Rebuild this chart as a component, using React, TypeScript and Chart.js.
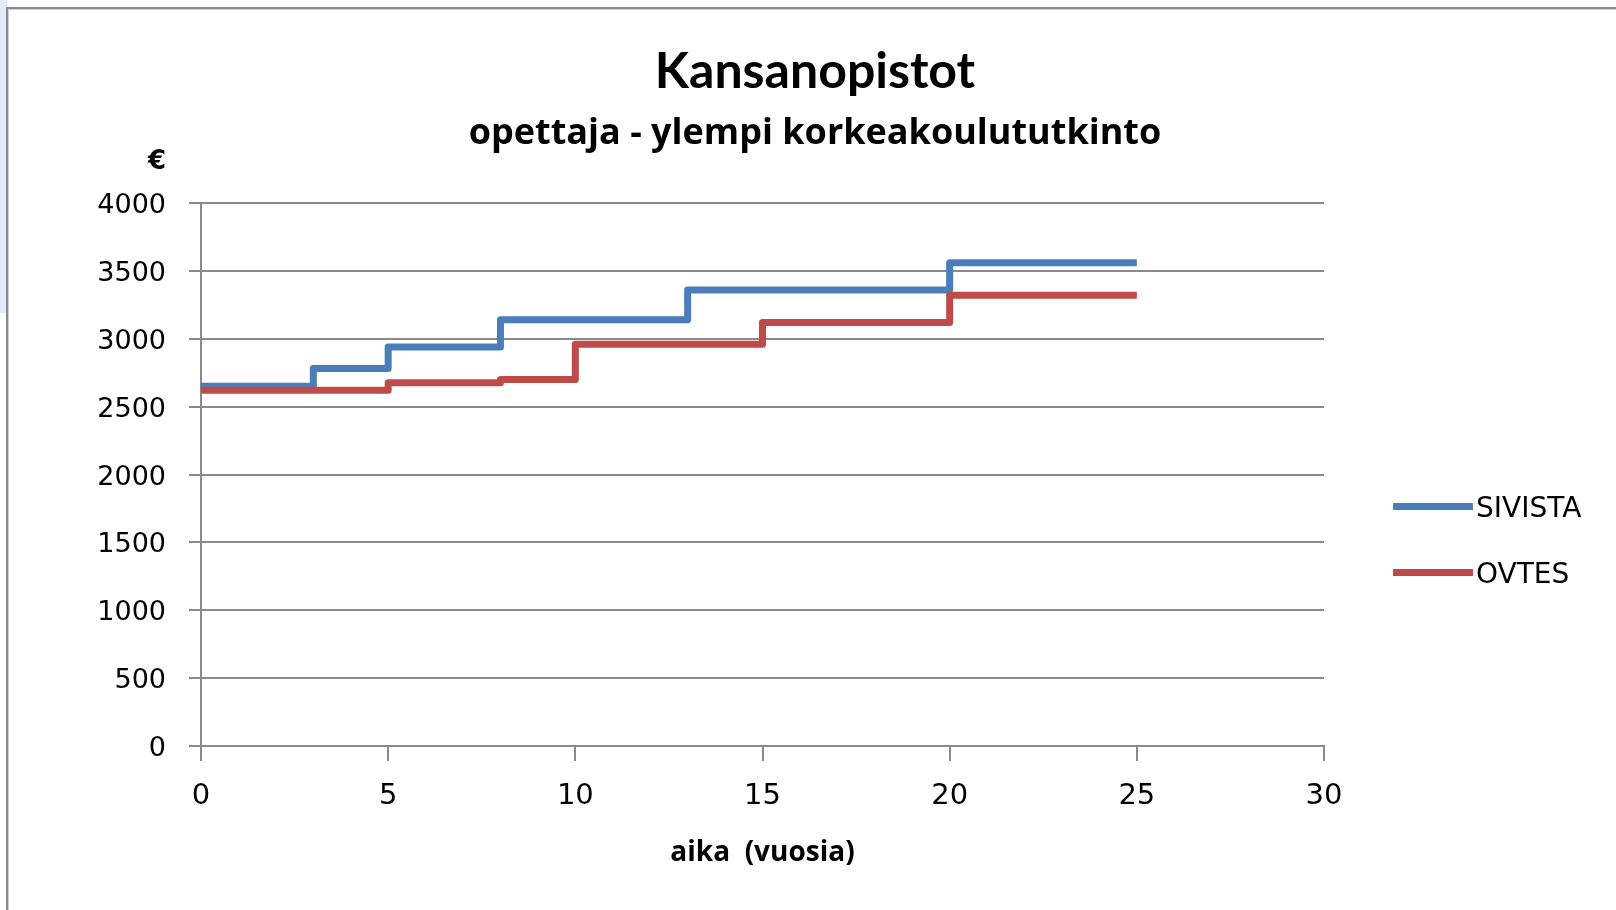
import React, { useEffect, useRef } from "react";
import { Chart, registerables } from "chart.js";

Chart.register(...registerables);

const titleText = "Kansanopistot";
const subtitleText = "opettaja - ylempi korkeakoulututkinto";
const yUnit = "€";
const xTitle = "aika  (vuosia)";

const seriesNames = ["SIVISTA", "OVTES"];
const seriesColors = ["#4a7ebb", "#be4b48"];

const sivistaYears = [0, 3, 5, 8, 13, 20, 25];
const sivistaValues = [2650, 2780, 2940, 3140, 3360, 3560, 3560];

const ovtesYears = [0, 5, 8, 10, 15, 20, 25];
const ovtesValues = [2620, 2675, 2700, 2960, 3120, 3320, 3320];

const xTicks = [0, 5, 10, 15, 20, 25, 30];
const yTicks = [0, 500, 1000, 1500, 2000, 2500, 3000, 3500, 4000];

const GRID = "#8a8a8a";

export default function App() {
  const canvasRef = useRef<HTMLCanvasElement | null>(null);

  useEffect(() => {
    const canvas = canvasRef.current;
    if (!canvas) return;
    const chart = new Chart(canvas, {
      type: "line",
      data: {
        datasets: [
          {
            label: seriesNames[0],
            data: sivistaYears.map((x, i) => ({ x, y: sivistaValues[i] })),
            borderColor: seriesColors[0],
            backgroundColor: seriesColors[0],
            borderWidth: 7,
            stepped: true,
            pointRadius: 0,
            fill: false,
            borderJoinStyle: "round",
            order: 1,
          },
          {
            label: seriesNames[1],
            data: ovtesYears.map((x, i) => ({ x, y: ovtesValues[i] })),
            borderColor: seriesColors[1],
            backgroundColor: seriesColors[1],
            borderWidth: 7,
            stepped: true,
            pointRadius: 0,
            fill: false,
            borderJoinStyle: "round",
            order: 0,
          },
        ],
      },
      options: {
        responsive: false,
        animation: false,
        devicePixelRatio: 1,
        layout: { padding: 0 },
        plugins: {
          legend: { display: false },
          tooltip: { enabled: false },
          title: {
            display: true,
            text: titleText,
            color: "#000",
            font: { family: "Lato", weight: "bold", size: 50, lineHeight: 1 },
            padding: { top: 47, bottom: 0 },
          },
          subtitle: {
            display: true,
            text: subtitleText,
            color: "#000",
            font: { family: "Open Sans", weight: "bold", size: 36, lineHeight: 1 },
            padding: { top: 19, bottom: 51 },
          },
        },
        scales: {
          x: {
            type: "linear",
            min: 0,
            max: 30,
            afterFit: (s: any) => {
              s.height = 164;
            },
            afterBuildTicks: (s: any) => {
              s.ticks = xTicks.map((v) => ({ value: v }));
            },
            ticks: {
              color: "#000",
              font: { family: "DejaVu Sans", size: 29 },
              padding: 18,
              maxRotation: 0,
              callback: (v: any) => String(v),
            },
            grid: {
              drawOnChartArea: false,
              drawTicks: true,
              tickLength: 15,
              color: GRID,
              lineWidth: 2,
            },
            border: { display: true, color: GRID, width: 2 },
            title: {
              display: true,
              text: xTitle,
              color: "#000",
              font: { family: "Open Sans", weight: "bold", size: 28, lineHeight: 1.2 },
              padding: { top: 0, bottom: 40 },
            },
          },
          y: {
            type: "linear",
            min: 0,
            max: 4000,
            afterFit: (s: any) => {
              s.width = 187;
            },
            afterBuildTicks: (s: any) => {
              s.ticks = yTicks.map((v) => ({ value: v }));
            },
            ticks: {
              color: "#000",
              font: { family: "DejaVu Sans", size: 27 },
              padding: 23,
              labelOffset: 3,
              callback: (v: any) => String(v),
            },
            grid: {
              color: GRID,
              lineWidth: 2,
              drawTicks: true,
              tickLength: 12,
            },
            border: { display: true, color: GRID, width: 2 },
          },
          legendSpace: {
            type: "linear",
            position: "right",
            display: true,
            afterFit: (s: any) => {
              s.width = 292;
            },
            ticks: { display: false },
            grid: { display: false, drawTicks: false },
            border: { display: false },
          },
        },
      },
    });
    return () => chart.destroy();
  }, []);

  return (
    <div
      style={{
        position: "absolute",
        left: 0,
        top: 0,
        width: 1616,
        height: 910,
        overflow: "hidden",
        background: "#ffffff",
      }}
    >
      <div
        style={{
          position: "absolute",
          left: 0,
          top: 0,
          width: 7,
          height: 313,
          background: "#e0ecf8",
        }}
      />
      <div
        style={{
          position: "absolute",
          left: 6,
          top: 7,
          width: 1700,
          height: 1000,
          borderLeft: "2px solid #8c8c8c",
          borderTop: "2px solid #8c8c8c",
          boxShadow: "inset 1px 1px 0 #d0d0d0",
        }}
      />
      <canvas
        ref={canvasRef}
        width={1602}
        height={910}
        style={{ position: "absolute", left: 14, top: 0, width: 1602, height: 910 }}
      />
      <div
        style={{
          position: "absolute",
          left: 140,
          top: 144,
          width: 34,
          textAlign: "center",
          fontFamily: "DejaVu Sans",
          fontWeight: "bold",
          fontSize: 26,
          lineHeight: "32px",
          color: "#000",
        }}
      >
        {yUnit}
      </div>
      {seriesNames.map((name, i) => (
        <div
          key={name}
          style={{
            position: "absolute",
            left: 1393,
            top: 506 + i * 66 - 20,
            height: 40,
            display: "flex",
            alignItems: "center",
          }}
        >
          <div style={{ width: 80, height: 7, background: seriesColors[i] }} />
          <div
            style={{
              marginLeft: 3,
              fontFamily: "DejaVu Sans",
              fontSize: 28,
              color: "#000",
              lineHeight: "40px",
              position: "relative",
              top: 2,
            }}
          >
            {name}
          </div>
        </div>
      ))}
    </div>
  );
}
